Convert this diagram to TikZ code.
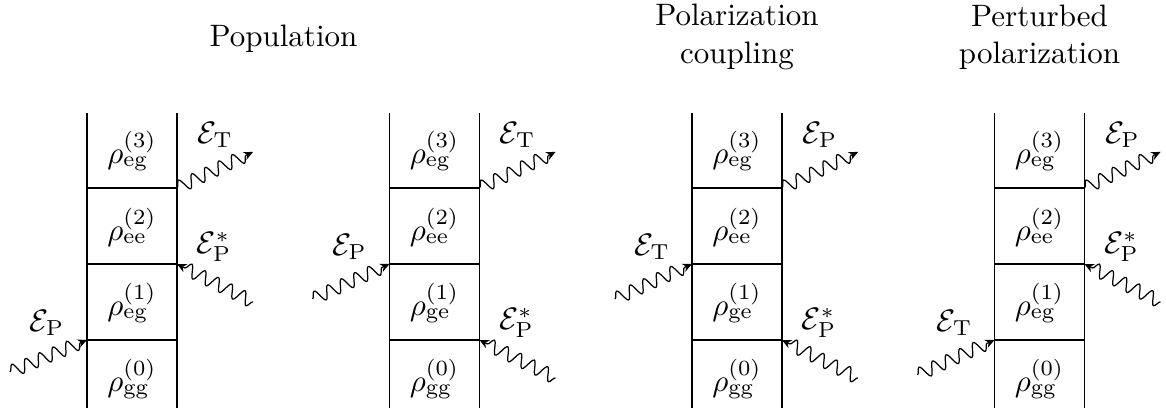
\documentclass[tikz,border=0pt]{standalone}
\usetikzlibrary{decorations.pathmorphing,arrows.meta,calc}
\begin{document}
\begin{tikzpicture}[x=0.32258pt,y=-0.32258pt,
  frame/.style={line width=0.4pt},
  photon/.style={decorate,decoration={snake,amplitude=2.1pt,segment length=4.8pt,post length=1.6pt},
    -{Stealth[length=3pt,width=2.8pt]}, line width=0.4pt},
  lbl/.style={inner sep=0pt},
  dens/.style={inner sep=0pt},
  ttl/.style={align=center,inner sep=0pt}]
\useasboundingbox (0,0) rectangle (1166,409);

% titles
\node[ttl,anchor=base] (t1) at (283.5,47) {Population};
\node[ttl] (t2) at (737,37) {Polarization\\coupling};
\node[ttl] (t3) at (1039.5,37) {Perturbed\\polarization};

% frames of the four diagrams
\foreach \d/\L in {1/87,2/389.5,3/692,4/994.5} {
  \pgfmathsetmacro{\R}{\L+90}
  \pgfmathsetmacro{\C}{\L+45}
  \coordinate (d\d lt) at (\L,113);
  \coordinate (d\d lb) at (\L,408);
  \coordinate (d\d rt) at (\R,113);
  \coordinate (d\d rb) at (\R,408);
  \coordinate (d\d l3) at (\L,188);
  \coordinate (d\d r3) at (\R,188);
  \coordinate (d\d l2) at (\L,264);
  \coordinate (d\d r2) at (\R,264);
  \coordinate (d\d l1) at (\L,340);
  \coordinate (d\d r1) at (\R,340);
  \draw[frame] (d\d lt) -- (d\d lb);
  \draw[frame] (d\d rt) -- (d\d rb);
  \draw[frame] (d\d l3) -- (d\d r3);
  \draw[frame] (d\d l2) -- (d\d r2);
  \draw[frame] (d\d l1) -- (d\d r1);
  \coordinate (d\d c3) at (\C,151);
  \coordinate (d\d c2) at (\C,227);
  \coordinate (d\d c1) at (\C,303);
  \coordinate (d\d c0) at (\C,379);
}

% density matrix labels
\node[dens] (d1rho3) at (d1c3) {$\rho^{(3)}_{\mathrm{eg}}$};
\node[dens] (d1rho2) at (d1c2) {$\rho^{(2)}_{\mathrm{ee}}$};
\node[dens] (d1rho1) at (d1c1) {$\rho^{(1)}_{\mathrm{eg}}$};
\node[dens] (d1rho0) at (d1c0) {$\rho^{(0)}_{\mathrm{gg}}$};

\node[dens] (d2rho3) at (d2c3) {$\rho^{(3)}_{\mathrm{eg}}$};
\node[dens] (d2rho2) at (d2c2) {$\rho^{(2)}_{\mathrm{ee}}$};
\node[dens] (d2rho1) at (d2c1) {$\rho^{(1)}_{\mathrm{ge}}$};
\node[dens] (d2rho0) at (d2c0) {$\rho^{(0)}_{\mathrm{gg}}$};

\node[dens] (d3rho3) at (d3c3) {$\rho^{(3)}_{\mathrm{eg}}$};
\node[dens] (d3rho2) at (d3c2) {$\rho^{(2)}_{\mathrm{ee}}$};
\node[dens] (d3rho1) at (d3c1) {$\rho^{(1)}_{\mathrm{ge}}$};
\node[dens] (d3rho0) at (d3c0) {$\rho^{(0)}_{\mathrm{gg}}$};

\node[dens] (d4rho3) at (d4c3) {$\rho^{(3)}_{\mathrm{eg}}$};
\node[dens] (d4rho2) at (d4c2) {$\rho^{(2)}_{\mathrm{ee}}$};
\node[dens] (d4rho1) at (d4c1) {$\rho^{(1)}_{\mathrm{eg}}$};
\node[dens] (d4rho0) at (d4c0) {$\rho^{(0)}_{\mathrm{gg}}$};

% ---------- diagram 1
\coordinate (d1inL) at ($(d1l1)+(-77,32)$);
\draw[photon] (d1inL) -- (d1l1);
\node[lbl] (d1EP) at ($(d1l1)+(-40,-17)$) {$\mathcal{E}_{\mathrm{P}}$};
\coordinate (d1inR) at ($(d1r2)+(76,38)$);
\draw[photon] (d1inR) -- (d1r2);
\node[lbl] (d1EPs) at ($(d1r2)+(37,-17)$) {$\mathcal{E}^{*}_{\mathrm{P}}$};
\coordinate (d1out) at ($(d1r3)+(76,-36)$);
\draw[photon] (d1r3) -- (d1out);
\node[lbl] (d1ET) at ($(d1r3)+(38,-53)$) {$\mathcal{E}_{\mathrm{T}}$};

% ---------- diagram 2
\coordinate (d2inL) at ($(d2l2)+(-77,35)$);
\draw[photon] (d2inL) -- (d2l2);
\node[lbl] (d2EP) at ($(d2l2)+(-40,-17)$) {$\mathcal{E}_{\mathrm{P}}$};
\coordinate (d2inR) at ($(d2r1)+(76,38)$);
\draw[photon] (d2inR) -- (d2r1);
\node[lbl] (d2EPs) at ($(d2r1)+(37,-17)$) {$\mathcal{E}^{*}_{\mathrm{P}}$};
\coordinate (d2out) at ($(d2r3)+(76,-36)$);
\draw[photon] (d2r3) -- (d2out);
\node[lbl] (d2ET) at ($(d2r3)+(38,-53)$) {$\mathcal{E}_{\mathrm{T}}$};

% ---------- diagram 3
\coordinate (d3inL) at ($(d3l2)+(-77,35)$);
\draw[photon] (d3inL) -- (d3l2);
\node[lbl] (d3ET) at ($(d3l2)+(-40,-17)$) {$\mathcal{E}_{\mathrm{T}}$};
\coordinate (d3inR) at ($(d3r1)+(76,38)$);
\draw[photon] (d3inR) -- (d3r1);
\node[lbl] (d3EPs) at ($(d3r1)+(37,-17)$) {$\mathcal{E}^{*}_{\mathrm{P}}$};
\coordinate (d3out) at ($(d3r3)+(76,-36)$);
\draw[photon] (d3r3) -- (d3out);
\node[lbl] (d3EP) at ($(d3r3)+(38,-53)$) {$\mathcal{E}_{\mathrm{P}}$};

% ---------- diagram 4
\coordinate (d4inL) at ($(d4l1)+(-77,35)$);
\draw[photon] (d4inL) -- (d4l1);
\node[lbl] (d4ET) at ($(d4l1)+(-40,-17)$) {$\mathcal{E}_{\mathrm{T}}$};
\coordinate (d4inR) at ($(d4r2)+(76,38)$);
\draw[photon] (d4inR) -- (d4r2);
\node[lbl] (d4EPs) at ($(d4r2)+(37,-17)$) {$\mathcal{E}^{*}_{\mathrm{P}}$};
\coordinate (d4out) at ($(d4r3)+(76,-36)$);
\draw[photon] (d4r3) -- (d4out);
\node[lbl] (d4EP) at ($(d4r3)+(38,-53)$) {$\mathcal{E}_{\mathrm{P}}$};
\end{tikzpicture}
\end{document}
